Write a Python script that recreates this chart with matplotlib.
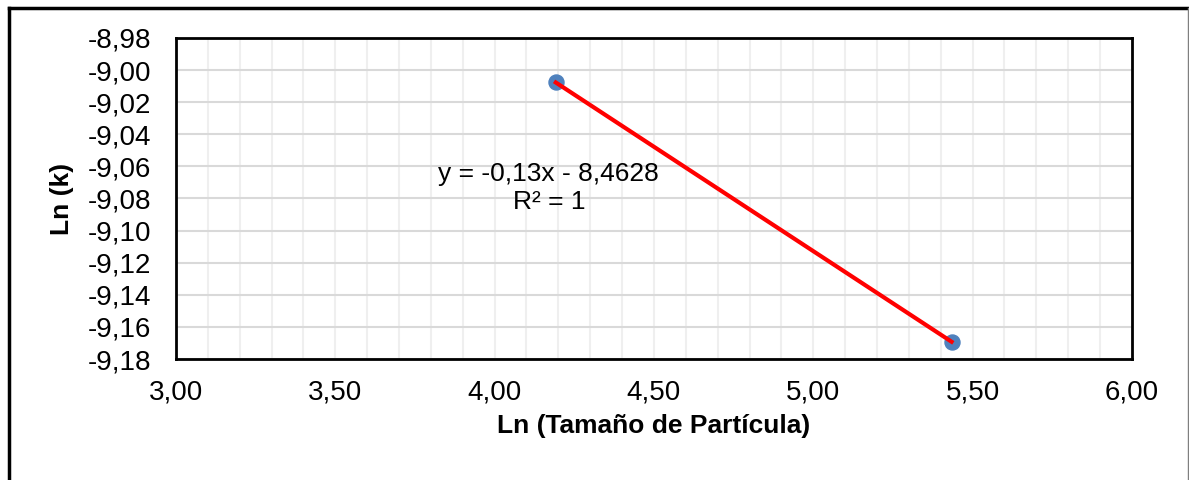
import matplotlib.pyplot as plt
from matplotlib.ticker import MultipleLocator, FuncFormatter
from matplotlib.lines import Line2D

plt.rcParams['font.family'] = ['Liberation Sans', 'DejaVu Sans']

# ln(particle size) vs ln(k)
ln_size = [4.192, 5.434]
ln_k = [-9.0077, -9.1692]
slope = -0.13
intercept = -8.4628
r2 = 1

fig = plt.figure(figsize=(11.89, 4.8), dpi=100)
ax = fig.add_axes([0.148, 0.252, 0.804, 0.669])

ax.scatter(ln_size, ln_k, s=117, color='#4f81bd', zorder=3)
fit_y = [slope * x + intercept for x in ln_size]
ax.plot(ln_size, fit_y, color='#ff0000', lw=3, zorder=4)

ax.set_xlim(3.0, 6.0)
ax.set_ylim(-9.18, -8.98)
ax.xaxis.set_major_locator(MultipleLocator(0.5))
ax.xaxis.set_minor_locator(MultipleLocator(0.1))
ax.yaxis.set_major_locator(MultipleLocator(0.02))
comma = FuncFormatter(lambda v, p: f'{v:.2f}'.replace('.', ','))
ax.xaxis.set_major_formatter(comma)
ax.yaxis.set_major_formatter(comma)
ax.tick_params(which='both', length=0, labelsize=20, colors='black')
ax.tick_params(axis='x', pad=15)
ax.tick_params(axis='y', pad=18)

ax.grid(which='minor', axis='x', color='#efefef', lw=1.5)
ax.grid(which='major', axis='x', color='#efefef', lw=1.5)
ax.grid(which='major', axis='y', color='#d9d9d9', lw=1.5)
ax.set_axisbelow(True)
for s in ax.spines.values():
    s.set_linewidth(2)
    s.set_color('black')

ax.set_xlabel('Ln (Tamaño de Partícula)', fontsize=19, fontweight='bold', labelpad=6)
ax.set_ylabel('Ln (k)', fontsize=19, fontweight='bold', labelpad=10)

ax.text(4.17, -9.0735, f'y = -0,13x - 8,4628\nR² = {r2}', fontsize=19,
        ha='center', va='center', linespacing=1.25)

# outer frame
fig.add_artist(Line2D([9 / 1189, 9 / 1189], [0, 1 - 8 / 480], color='black', lw=2.5))
fig.add_artist(Line2D([9 / 1189, 1188 / 1189], [1 - 8 / 480, 1 - 8 / 480], color='black', lw=2.5))
fig.add_artist(Line2D([1188 / 1189, 1188 / 1189], [0, 1 - 8 / 480], color='#7f7f7f', lw=1))

fig.savefig('out.png', dpi=100)
